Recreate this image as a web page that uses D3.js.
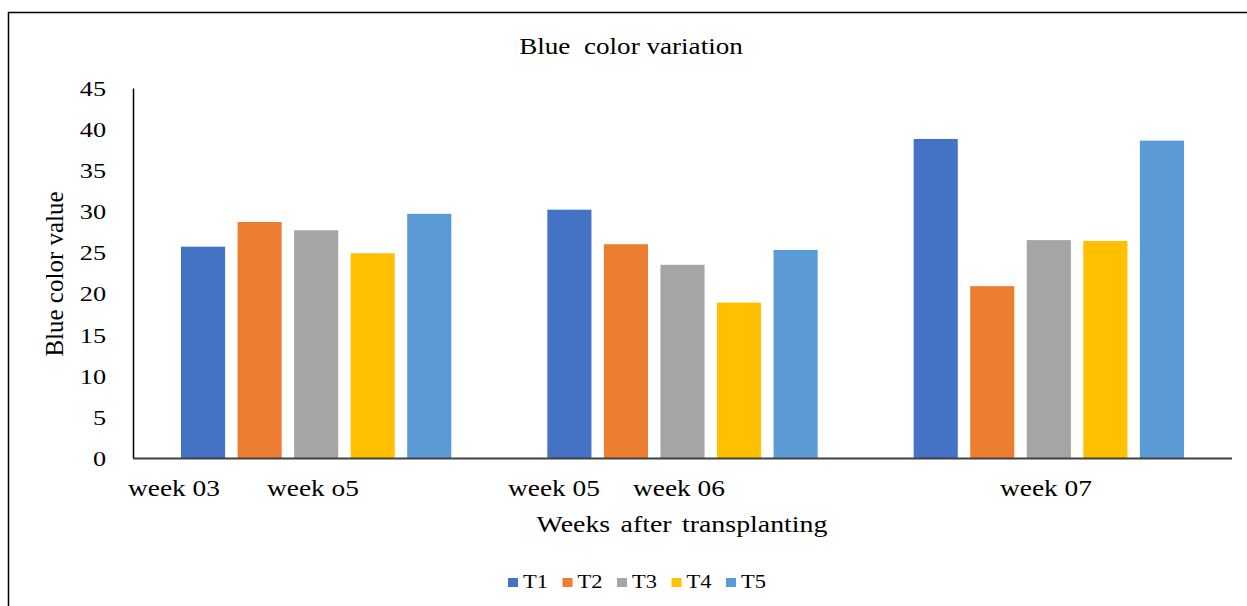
<!DOCTYPE html>
<html>
<head>
<meta charset="utf-8">
<script src="https://cdn.jsdelivr.net/npm/d3@7"></script>
<style>
  body { margin: 0; background: #fff; }
  svg { display: block; font-family: "Liberation Serif", "Times New Roman", serif; }
</style>
</head>
<body>
<div id="chart"></div>
<script>
// Chart data
const groups = ["g1", "g2", "g3"];
const series = ["T1", "T2", "T3", "T4", "T5"];
const colors = ["#4472C4", "#ED7D31", "#A5A5A5", "#FFC000", "#5B9BD5"];
const values = [
  [25.7, 28.7, 27.7, 24.9, 29.7],
  [30.2, 26.0, 23.5, 18.9, 25.3],
  [38.8, 20.9, 26.5, 26.4, 38.6]
];
const yTicks = [0, 5, 10, 15, 20, 25, 30, 35, 40, 45];
const weekLabels = ["week 03", "week o5", "week 05", "week 06", "week 07"];
// where each week label starts (px), as placed in the original
const weekLabelX = [128, 267, 508, 633, 1000];

const width = 1247, height = 606;
const margin = { top: 88, right: 15, bottom: 148, left: 133 };

const svg = d3.select("#chart").append("svg")
  .attr("width", width)
  .attr("height", height);

// the source picture is a bit wider than tall, so text looks stretched sideways
function stretch(sel, k) {
  sel.each(function () {
    const w = this.getComputedTextLength();
    d3.select(this)
      .attr("textLength", w * k)
      .attr("lengthAdjust", "spacingAndGlyphs");
  });
}

// frame lines (left and top)
svg.append("path")
  .attr("d", `M8.5,${height} V12.5 H${width}`)
  .attr("fill", "none")
  .attr("stroke", "#000")
  .attr("stroke-width", 1.5);

const x0 = d3.scaleBand()
  .domain(groups)
  .range([margin.left, width - margin.right]);

const bandW = x0.bandwidth();
const outer = 48;
const x1 = d3.scaleBand()
  .domain(series)
  .range([outer, bandW - outer])
  .paddingInner(0.22);

const y = d3.scaleLinear()
  .domain([0, 45])
  .range([height - margin.bottom, margin.top]);

// bars
const g = svg.append("g");
groups.forEach((grp, gi) => {
  g.selectAll(null)
    .data(values[gi].map((v, si) => ({ v, si })))
    .enter()
    .append("rect")
    .attr("x", d => x0(grp) + x1(series[d.si]))
    .attr("width", x1.bandwidth())
    .attr("y", d => y(d.v))
    .attr("height", d => y(0) - y(d.v))
    .attr("fill", d => colors[d.si]);
});

// y axis
const yAxis = d3.axisLeft(y).tickValues(yTicks).tickSize(0).tickPadding(27);
const ya = svg.append("g")
  .attr("transform", `translate(${margin.left},0)`)
  .call(yAxis);
ya.select(".domain").attr("stroke", "#000").attr("stroke-width", 1.5);
ya.selectAll("text")
  .attr("font-family", "Liberation Serif, serif")
  .attr("font-size", 21)
  .attr("fill", "#000")
  .attr("dy", "0.35em")
  .call(stretch, 1.25);

// x axis baseline
svg.append("line")
  .attr("x1", margin.left).attr("x2", width - margin.right)
  .attr("y1", y(0) + 0.5).attr("y2", y(0) + 0.5)
  .attr("stroke", "#404040")
  .attr("stroke-width", 2);

// week labels
svg.selectAll("text.week")
  .data(weekLabels)
  .enter()
  .append("text")
  .attr("class", "week")
  .attr("x", (d, i) => weekLabelX[i])
  .attr("y", 496)
  .attr("font-size", 23)
  .attr("fill", "#000")
  .text(d => d)
  .call(stretch, 1.19);

// title
svg.append("text")
  .attr("x", 631).attr("y", 54)
  .attr("text-anchor", "middle")
  .attr("font-size", 24)
  .attr("fill", "#000")
  .attr("xml:space", "preserve")
  .style("white-space", "pre")
  .text("Blue  color variation")
  .call(stretch, 1.13);

// axis titles
svg.append("text")
  .attr("x", 682).attr("y", 532)
  .attr("text-anchor", "middle")
  .attr("font-size", 24)
  .attr("fill", "#000")
  .style("word-spacing", "3px")
  .text("Weeks after transplanting")
  .call(stretch, 1.16);

svg.append("text")
  .attr("transform", "translate(63,274) rotate(-90)")
  .attr("text-anchor", "middle")
  .attr("font-size", 25)
  .attr("fill", "#000")
  .text("Blue color value");

// legend
const legend = svg.append("g").attr("transform", "translate(508,583)");
const item = legend.selectAll("g")
  .data(series)
  .enter()
  .append("g")
  .attr("transform", (d, i) => `translate(${i * 54.5},0)`);
item.append("rect")
  .attr("x", 0).attr("y", -5)
  .attr("width", 10).attr("height", 9)
  .attr("fill", (d, i) => colors[i]);
item.append("text")
  .attr("x", 15).attr("y", 5)
  .attr("font-size", 18)
  .attr("fill", "#000")
  .text(d => d)
  .call(stretch, 1.25);
</script>
</body>
</html>
